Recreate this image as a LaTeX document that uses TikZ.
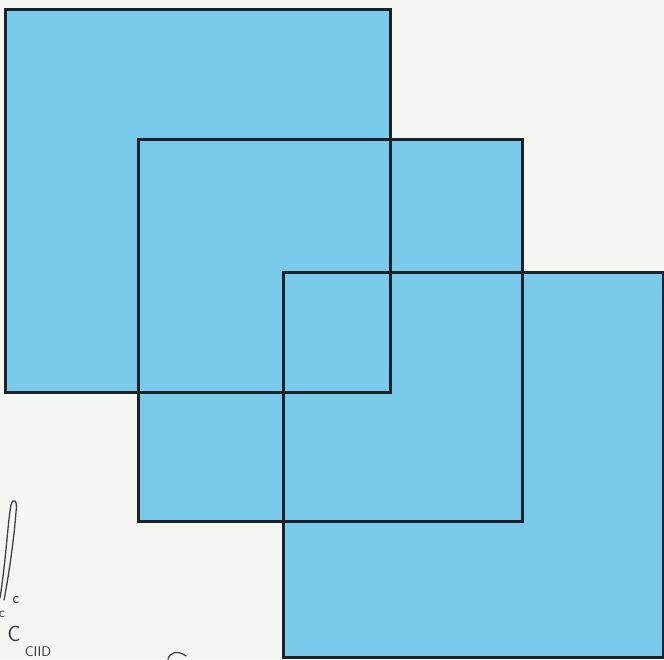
\documentclass[tikz,border=0pt]{standalone}
\begin{document}
\begin{tikzpicture}[x=1pt,y=-1pt,
  edge/.style={draw=ink,line width=3pt,line join=miter},
  scrib/.style={draw=ink!85,line width=1.3pt,line cap=round},
  scribtext/.style={text=ink!90, inner sep=0}]
\definecolor{sky}{RGB}{122,202,236}
\definecolor{ink}{RGB}{28,34,40}
\definecolor{paper}{RGB}{244,246,241}
\useasboundingbox[fill=paper] (0,0) rectangle (664,659);
% fills
\fill[sky] (5,9) rectangle (390,392);
\fill[sky] (138,139) rectangle (522,521);
\fill[sky] (283,272) rectangle (663,657);
% outlines
\draw[edge] (5,9) rectangle (390,392);
\draw[edge] (138,139) rectangle (522,521);
\draw[edge] (283,272) rectangle (663,657);
% scan scribbles bottom-left
\draw[scrib] (0,598) .. controls (6,560) and (8,520) .. (11,505)
  .. controls (13,497) and (18,500) .. (16,512)
  .. controls (14,540) and (8,580) .. (4,600);
\node[scribtext, font=\sffamily\fontsize{16}{16}\selectfont] (c1) at (16,600) {c};
\node[scribtext, font=\sffamily\fontsize{14}{14}\selectfont] (c2) at (2,614) {c};
\node[scribtext, font=\sffamily\fontsize{22}{22}\selectfont] (c3) at (14,634) {C};
\node[scribtext, font=\sffamily\fontsize{14}{14}\selectfont] (c4) at (38,652) {CIID};
\draw[scrib] (168,659) .. controls (170,652) and (178,650) .. (186,656);
\end{tikzpicture}
\end{document}
